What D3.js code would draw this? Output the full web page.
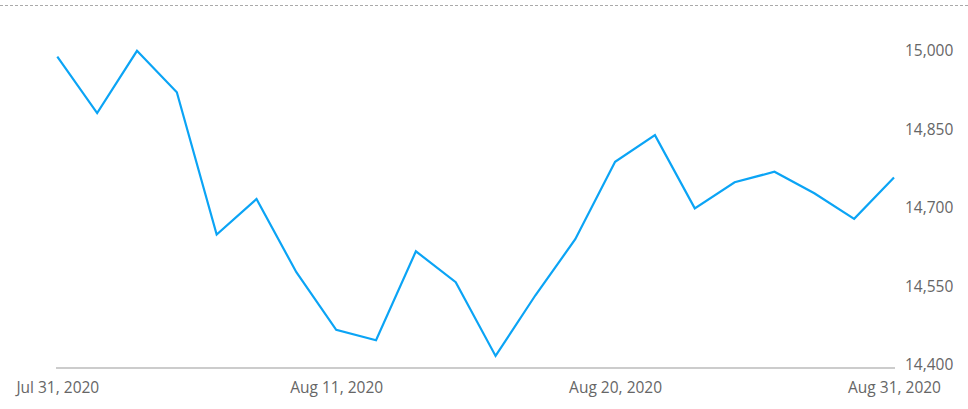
<!DOCTYPE html>
<meta charset="utf-8">
<style>
body { margin: 0; background: #fff; }
svg { display: block; }
.tick text { fill: #666; font-size: 15.5px; font-family: 'Open Sans', sans-serif; }
</style>
<body>
<div id="chart"></div>
<script src="https://cdn.jsdelivr.net/npm/d3@7"></script>
<script>
// trading days, Jul 31 - Aug 31 2020
var dates = ['2020-07-31','2020-08-03','2020-08-04','2020-08-05','2020-08-06','2020-08-07',
  '2020-08-10','2020-08-11','2020-08-12','2020-08-13','2020-08-14',
  '2020-08-17','2020-08-18','2020-08-19','2020-08-20','2020-08-21',
  '2020-08-24','2020-08-25','2020-08-26','2020-08-27','2020-08-28','2020-08-31'];
var values = [14995, 14887, 15006, 14927, 14655, 14723, 14583, 14473, 14453, 14623, 14564,
  14423, 14539, 14646, 14794, 14845, 14705, 14755, 14775, 14734, 14685, 14764];
var xTicks = ['2020-07-31', '2020-08-11', '2020-08-20', '2020-08-31'];
var yTicks = [14400, 14550, 14700, 14850, 15000];

var width = 968, height = 409;
var parse = d3.timeParse('%Y-%m-%d');
var fmt = d3.timeFormat('%b %-d, %Y');

var svg = d3.select('#chart').append('svg')
    .attr('width', width)
    .attr('height', height);

var x = d3.scalePoint().domain(dates).range([57.3, 894]);
var y = d3.scaleLinear().domain([14400, 15000]).range([368, 54]);

// dashed top border
svg.append('line')
    .attr('x1', 0).attr('x2', width)
    .attr('y1', 5.5).attr('y2', 5.5)
    .attr('stroke', '#aaa')
    .attr('stroke-dasharray', '3,2');

// baseline
svg.append('line')
    .attr('x1', 56).attr('x2', 895)
    .attr('y1', y(14400)).attr('y2', y(14400))
    .attr('stroke', '#bbb')
    .attr('stroke-width', 1.5);

var yAxis = svg.append('g')
    .attr('transform', 'translate(896,0)')
    .call(d3.axisRight(y).tickValues(yTicks).tickSize(0).tickPadding(9).tickFormat(d3.format(',')));
yAxis.select('.domain').remove();
yAxis.selectAll('text').attr('dy', '0.1em');

var xAxis = svg.append('g')
    .attr('transform', 'translate(0,' + 382 + ')')
    .call(d3.axisBottom(x).tickValues(xTicks).tickSize(0).tickPadding(0)
      .tickFormat(function(d) { return fmt(parse(d)); }));
xAxis.select('.domain').remove();

var line = d3.line()
    .x(function(d, i) { return x(dates[i]); })
    .y(function(d) { return y(d); });

svg.append('path')
    .datum(values)
    .attr('fill', 'none')
    .attr('stroke', '#0ba4f5')
    .attr('stroke-width', 2.2)
    .attr('stroke-linejoin', 'miter')
    .attr('d', line);
</script>
</body>
